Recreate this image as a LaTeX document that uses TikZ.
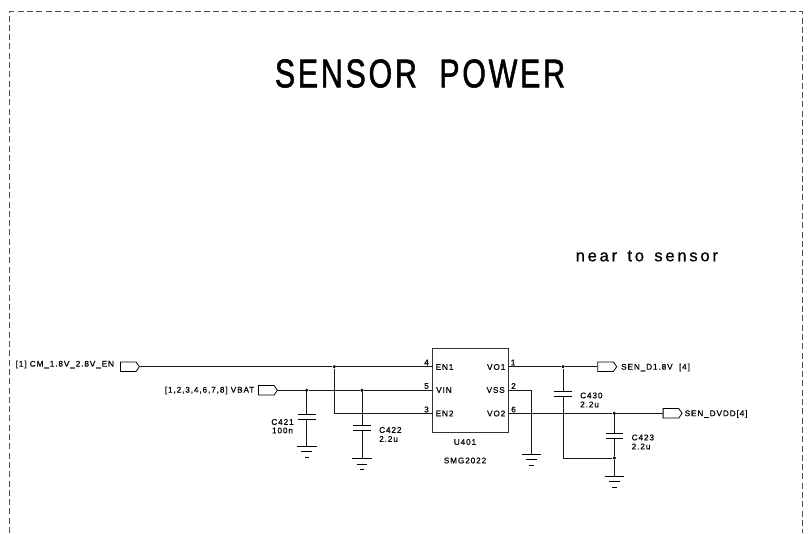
\documentclass[tikz,border=0pt]{standalone}
\usepackage{fontspec}
\setmainfont{Liberation Sans}
\usetikzlibrary{shapes.symbols}
\newfontfamily\schfont[LetterSpace=11,FakeBold=0.6]{Liberation Sans}
\newfontfamily\ttlfont[LetterSpace=9,FakeBold=1.6]{Liberation Sans}
\newfontfamily\nearfont[LetterSpace=17,FakeBold=0.8,WordSpace=1.4]{Liberation Sans}
\tikzset{
  wire/.style={line width=0.85pt,black!90},
  frameline/.style={line width=0.7pt,black!70,dash pattern=on 6pt off 3.3pt},
  junction/.style={circle,fill=black,inner sep=0pt,minimum size=3.4pt},
  tagbox/.style={draw,line width=0.8pt,signal,signal to=east,signal pointer angle=110,inner sep=0pt,minimum width=19pt,minimum height=9.5pt},
  lbl/.style={inner sep=0pt,font=\schfont\fontsize{8.2}{9}\selectfont,text=black},
  pinnum/.style={inner sep=0pt,font=\schfont\fontsize{8.2}{9}\selectfont,text=black},
  icbox/.style={draw,line width=1pt,black!80,minimum width=75.6pt,minimum height=83.7pt,inner sep=0pt},
  plate/.style={line width=0.9pt,black},
  gnd/.pic={\draw[line width=.9pt] (-9.8,0)--(9.8,0); \draw[line width=.8pt] (-5.3,5.8)--(5.3,5.8); \draw[line width=.8pt] (-2.2,11.3)--(2.2,11.3);},
  capplates/.pic={\draw[plate] (-8.8,-2.3)--(8.8,-2.3); \draw[plate] (-8.8,2.3)--(8.8,2.3);}
}
\begin{document}
\begin{tikzpicture}[x=1pt,y=-1pt]
\useasboundingbox (0,0) rectangle (810,533);
% frame
\coordinate (fbl) at (9,533);
\coordinate (ftl) at (9,11.7);
\coordinate (ftr) at (802.3,11.7);
\coordinate (fbr) at (802.3,533);
\draw[frameline] (fbl)--(ftl)--(ftr)--(fbr);
% title
\node[inner sep=0pt,font=\ttlfont\fontsize{40}{44}\selectfont,xscale=.76,transform shape] (title) at (420,73.5) {SENSOR\ \ POWER};
\node[inner sep=0pt,font=\nearfont\fontsize{16.5}{18}\selectfont,anchor=west] (near) at (575.5,256) {near to sensor};
% IC
\node[icbox] (u) at (470.5,390.2) {};
\coordinate (pEN1) at (432.7,366.7);
\coordinate (pVIN) at (432.7,390.3);
\coordinate (pEN2) at (432.7,413.3);
\coordinate (pVO1) at (508.3,366.7);
\coordinate (pVSS) at (508.3,390.3);
\coordinate (pVO2) at (508.3,413.3);
\node[lbl,anchor=west] (tEN1) at (435.5,367) {EN1};
\node[lbl,anchor=west] (tVIN) at (436,390) {VIN};
\node[lbl,anchor=west] (tEN2) at (435.5,413.5) {EN2};
\node[lbl,anchor=east] (tVO1) at (505.5,367) {VO1};
\node[lbl,anchor=east] (tVSS) at (505,390) {VSS};
\node[lbl,anchor=east] (tVO2) at (505.5,413.5) {VO2};
\node[pinnum] (n4) at (426.5,362.5) {4};
\node[pinnum] (n5) at (426.5,386) {5};
\node[pinnum] (n3) at (426.5,409.5) {3};
\node[pinnum] (n1) at (513,362.5) {1};
\node[pinnum] (n2) at (513.5,386) {2};
\node[pinnum] (n6) at (513.5,409.5) {6};
\node[lbl] (uname) at (465,442) {U401};
\node[lbl] (upart) at (465,460.5) {SMG2022};
% tags
\node[tagbox,anchor=west] (tagCM) at (120,366.7) {};
\node[tagbox,anchor=west] (tagVB) at (258,390.3) {};
\node[tagbox,anchor=west] (tagD) at (597.3,366.7) {};
\node[tagbox,anchor=west] (tagV) at (662.7,413.3) {};
\node[lbl,anchor=west] (lCM) at (15.5,364.5) {[1] CM\_1.8V\_2.8V\_EN};
\node[lbl,anchor=east] (lVB) at (254.5,390.5) {[1,2,3,4,6,7,8] VBAT};
\node[lbl,anchor=west] (lD) at (621,367.5) {SEN\_D1.8V\ \ [4]};
\node[lbl,anchor=west] (lV) at (684.5,414) {SEN\_DVDD[4]};
% junctions
\node[junction] (j1) at (334.3,366.7) {};
\node[junction] (j2) at (306.7,390.3) {};
\node[junction] (j3) at (362,390.3) {};
\node[junction] (j4) at (563,366.7) {};
\node[junction] (j5) at (614.3,413.3) {};
\node[junction] (j6) at (614.3,458) {};
% nets
\draw[wire] (tagCM.east)--(j1)--(pEN1);
\draw[wire] (tagVB.east)--(j2)--(j3)--(pVIN);
\draw[wire] (j1)|-(pEN2);
\draw[wire] (pVO1)--(j4)--(tagD.west);
\draw[wire] (pVO2)--(j5)--(tagV.west);
% VSS to ground
\coordinate (g3) at (531.3,454);
\draw[wire] (pVSS)-|(g3);
\pic at (g3) {gnd};
% C421
\coordinate (c421t) at (306.7,414.7);
\coordinate (c421b) at (306.7,419.3);
\coordinate (g1) at (306.7,446);
\draw[wire] (j2)--(c421t) (c421b)--(g1);
\pic at (306.7,417) {capplates};
\pic at (g1) {gnd};
\node[lbl] (c421n) at (282.5,422) {C421};
\node[lbl] (c421v) at (282.5,430.5) {100n};
% C422
\coordinate (c422t) at (362,425.7);
\coordinate (c422b) at (362,430.3);
\coordinate (g2) at (362,458.3);
\draw[wire] (j3)--(c422t) (c422b)--(g2);
\pic at (362,428) {capplates};
\pic at (g2) {gnd};
\node[lbl,anchor=west] (c422n) at (379,430) {C422};
\node[lbl,anchor=west] (c422v) at (379,439) {2.2u};
% C430
\coordinate (c430t) at (563,391.7);
\coordinate (c430b) at (563,396.3);
\draw[wire] (j4)--(c430t) (c430b)|-(j6);
\pic at (563,394) {capplates};
\node[lbl,anchor=west] (c430n) at (580,395.5) {C430};
\node[lbl,anchor=west] (c430v) at (580,404.5) {2.2u};
% C423
\coordinate (c423t) at (614.3,433.7);
\coordinate (c423b) at (614.3,438.3);
\coordinate (g4) at (614.3,476);
\draw[wire] (j5)--(c423t) (c423b)--(j6)--(g4);
\pic at (614.3,436) {capplates};
\pic at (g4) {gnd};
\node[lbl,anchor=west] (c423n) at (631.5,437.5) {C423};
\node[lbl,anchor=west] (c423v) at (631.5,446.5) {2.2u};
\end{tikzpicture}
\end{document}
